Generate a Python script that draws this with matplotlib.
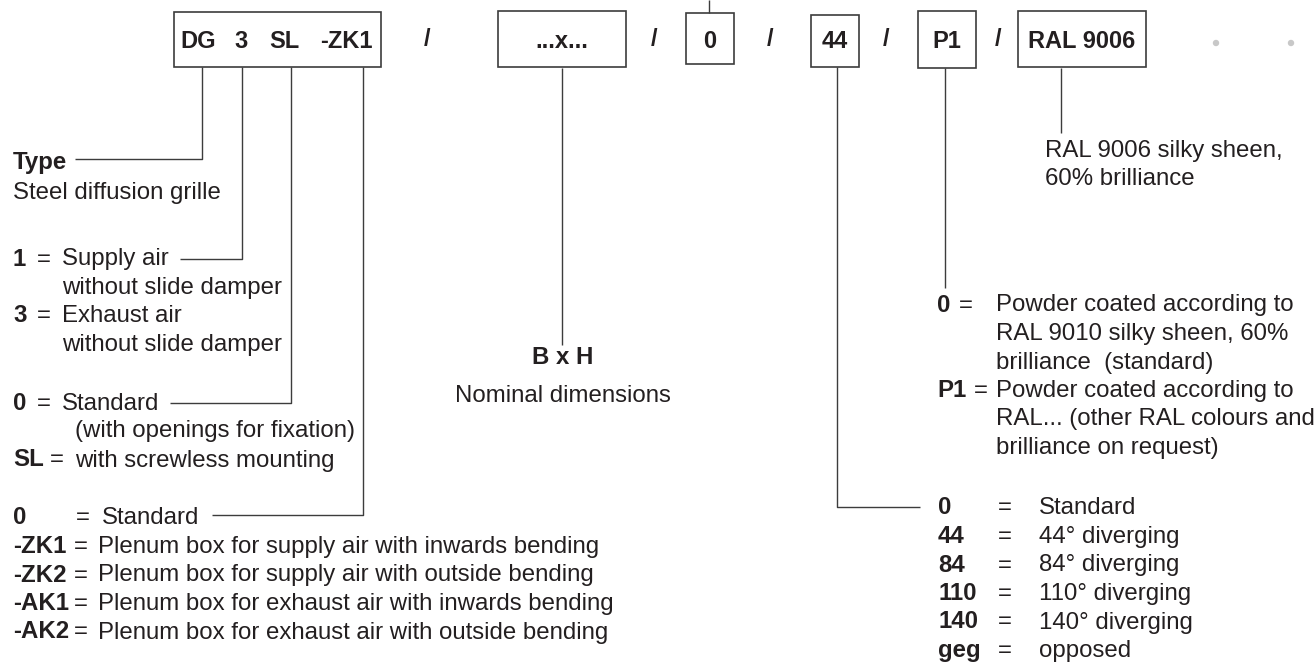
import matplotlib.pyplot as plt
from matplotlib.patches import Rectangle, Circle

plt.rcParams['font.family'] = ['Liberation Sans', 'DejaVu Sans']

# order code
code_parts = ['DG', '3', 'SL', '-ZK1']
code_boxes = ['...x...', '0', '44', 'P1', 'RAL 9006']

# explanations
type_title = 'Type'
type_desc = 'Steel diffusion grille'

air_keys = ['1', '3']
air_text = [['Supply air', 'without slide damper'],
            ['Exhaust air', 'without slide damper']]

mount_keys = ['0', 'SL']
mount_text = [['Standard', '(with openings for fixation)'],
              ['with screwless mounting']]

plenum_keys = ['0', '-ZK1', '-ZK2', '-AK1', '-AK2']
plenum_text = ['Standard',
               'Plenum box for supply air with inwards bending',
               'Plenum box for supply air with outside bending',
               'Plenum box for exhaust air with inwards bending',
               'Plenum box for exhaust air with outside bending']

dim_title = 'B x H'
dim_desc = 'Nominal dimensions'

coat_keys = ['0', 'P1']
coat_text = [['Powder coated according to', 'RAL 9010 silky sheen, 60%', 'brilliance  (standard)'],
             ['Powder coated according to', 'RAL... (other RAL colours and', 'brilliance on request)']]

defl_keys = ['0', '44', '84', '110', '140', 'geg']
defl_text = ['Standard', '44° diverging', '84° diverging',
             '110° diverging', '140° diverging', 'opposed']

ral_note = ['RAL 9006 silky sheen,', '60% brilliance']

TXT = '#231f20'
LINE = '#3c3c3c'
FS = 17.3
LH = 28.5

fig = plt.figure(figsize=(13.16, 6.62), dpi=100)
ax = fig.add_axes([0, 0, 1, 1])
ax.set_xlim(0, 1316)
ax.set_ylim(662, 0)
ax.axis('off')


def txt(x, y, s, bold=False, ha='left', size=FS):
    # y is the visual middle of the capitals
    ax.text(x, y + 8.5, s, fontsize=size, color=TXT, ha=ha, va='baseline',
            fontweight='bold' if bold else 'normal')


def line(xs, ys):
    ax.plot(xs, ys, color=LINE, lw=1.0, solid_capstyle='butt')


def box(x0, x1, y0, y1):
    ax.add_patch(Rectangle((x0, y0), x1 - x0, y1 - y0, fill=False,
                           edgecolor=LINE, lw=1.2))


# header
box(174, 381, 12, 67)
for s, x in zip(code_parts, [198, 241, 284, 346]):
    txt(x, 40, s, bold=True, ha='center', size=17)

box_x = [(498, 626), (686, 734), (811, 859), (918, 976), (1018, 1146)]
box_y = [(11, 67), (13, 64), (15, 67), (11, 68), (11, 67)]
for s, (x0, x1), (y0, y1) in zip(code_boxes, box_x, box_y):
    box(x0, x1, y0, y1)
    txt((x0 + x1) / 2, 40, s, bold=True, ha='center', size=17)

for x in [427, 654, 770, 886, 998]:
    txt(x, 38, '/', bold=True, ha='center', size=17)

for x in [1216, 1291]:
    ax.add_patch(Circle((x, 43), 3.2, color='#c8c8c8', lw=0))

# leader lines
line([202, 202, 75], [67, 159, 159])
line([242, 242, 180], [67, 259, 259])
line([291, 291, 170], [67, 403, 403])
line([363, 363, 212], [67, 515, 515])
line([562, 562], [68, 345])
line([709, 709], [0, 13])
line([837, 837, 920], [67, 507, 507])
line([945, 945], [68, 288])
line([1061, 1061], [68, 133])

# type
txt(13, 160, type_title, bold=True)
txt(13, 190, type_desc)

# air
for i, (k, lines_) in enumerate(zip(air_keys, air_text)):
    y0 = 257 + i * 2 * LH
    txt(13, y0, k, bold=True)
    txt(44, y0, '=', ha='center')
    for j, s in enumerate(lines_):
        txt(62, y0 + j * LH, s)

# mounting
txt(13, 401, mount_keys[0], bold=True)
txt(44, 401, '=', ha='center')
txt(62, 401, mount_text[0][0])
txt(75, 429, mount_text[0][1])
txt(13, 458, mount_keys[1], bold=True)
txt(57, 458, '=', ha='center')
txt(75, 458, mount_text[1][0])

# plenum
for i, (k, s) in enumerate(zip(plenum_keys, plenum_text)):
    y0 = 516 + i * LH
    txt(13, y0, k, bold=True)
    txt(83 if i == 0 else 81, y0, '=', ha='center')
    txt(102 if i == 0 else 98, y0, s)

# dimensions
txt(563, 356, dim_title, bold=True, ha='center')
txt(563, 393, dim_desc, ha='center')

# ral note
for j, s in enumerate(ral_note):
    txt(1045, 148 + j * LH, s)

# coating
for i, (k, lines_) in enumerate(zip(coat_keys, coat_text)):
    y0 = 303 + i * 3 * LH
    txt(937, y0, k, bold=True)
    txt(966 if i == 0 else 981, y0, '=', ha='center')
    for j, s in enumerate(lines_):
        txt(996, y0 + j * LH, s)

# deflection
for i, (k, s) in enumerate(zip(defl_keys, defl_text)):
    y0 = 506 + i * LH
    txt(938, y0, k, bold=True)
    txt(1005, y0, '=', ha='center')
    txt(1039, y0, s)

fig.savefig('out.png', dpi=100, facecolor='white')
